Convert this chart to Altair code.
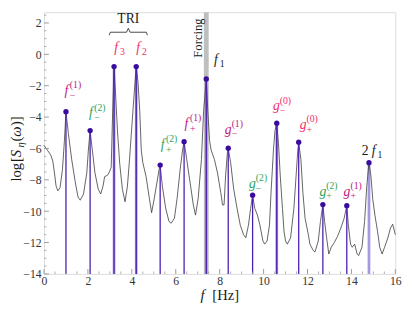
import altair as alt
import pandas as pd

SERIF = "Liberation Serif"

# ---------------- data ----------------
freq = [0.0, 0.05, 0.15, 0.3, 0.4, 0.47, 0.55, 0.63, 0.73, 0.84, 0.93, 1.0,
        1.11, 1.26, 1.43, 1.55, 1.65, 1.8, 1.95, 2.02, 2.1,
        2.2, 2.32, 2.47, 2.58, 2.69, 2.76, 2.9, 2.98, 3.06, 3.12, 3.19,
        3.27, 3.35, 3.45, 3.57, 3.69, 3.8, 3.9, 4.0, 4.1, 4.2,
        4.28, 4.36, 4.43, 4.5, 4.65, 4.8, 4.9, 5.02, 5.14, 5.24, 5.29,
        5.39, 5.54, 5.69, 5.79, 5.94, 6.06, 6.2, 6.31, 6.38,
        6.5, 6.65, 6.8, 6.9, 7.02, 7.17, 7.27, 7.39,
        7.46, 7.54, 7.61, 7.76, 7.9, 8.05, 8.13, 8.2, 8.27, 8.35, 8.39,
        8.5, 8.64, 8.79, 8.94, 9.09, 9.19, 9.31, 9.41, 9.5,
        9.6, 9.72, 9.83, 9.97, 10.05, 10.16, 10.27, 10.34, 10.45, 10.52, 10.6,
        10.68, 10.76, 10.86, 10.93, 11.0, 11.08, 11.23, 11.38, 11.48, 11.56, 11.6,
        11.7, 11.79, 11.89, 12.04, 12.11, 12.26, 12.34, 12.49, 12.59, 12.7,
        12.78, 12.89, 12.97, 13.08, 13.22, 13.37, 13.52, 13.67, 13.79,
        13.86, 13.96, 14.04, 14.15, 14.26, 14.33, 14.48, 14.6, 14.7, 14.8,
        14.89, 14.97, 15.07, 15.19, 15.29, 15.4, 15.51, 15.66, 15.78, 15.88, 16.0]
logS = [-5.8, -5.9, -6.1, -6.4, -6.8, -7.5, -8.4, -8.7, -8.5, -7.35, -5.5, -3.66,
        -5.05, -6.7, -8.2, -9.1, -9.3, -8.9, -7.55, -6.1, -4.86,
        -6.1, -7.55, -8.6, -8.9, -8.4, -7.8, -7.7, -7.5, -7.2, -4.0, -0.78,
        -2.8, -5.0, -7.0, -8.6, -9.4, -8.4, -6.6, -4.6, -2.6, -0.78,
        -1.76, -3.6, -6.1, -6.9, -7.8, -9.2, -10.1, -9.2, -8.2, -7.35, -7.06,
        -8.4, -9.8, -10.65, -10.77, -10.45, -9.2, -7.35, -6.1, -5.57,
        -6.7, -8.15, -9.6, -10.25, -9.2, -6.7, -3.6, -1.57,
        -3.6, -5.5, -6.1, -6.7, -7.55, -8.8, -9.6, -9.6, -7.76, -6.3, -5.98,
        -6.9, -8.6, -9.8, -10.9, -11.5, -11.7, -10.9, -9.83, -8.98,
        -9.83, -10.25, -10.87, -11.9, -12.1, -11.9, -10.87, -8.8, -6.1, -4.86, -4.39,
        -5.7, -7.76, -9.83, -11.27, -11.9, -12.1, -11.7, -9.83, -7.76, -6.1, -5.6,
        -6.7, -8.8, -10.45, -11.5, -12.1, -12.5, -12.6, -11.9, -10.66, -9.58,
        -10.66, -11.9, -12.73, -12.3, -12.0, -11.6, -11.07, -10.45, -9.65,
        -10.87, -12.1, -12.3, -12.1, -12.73, -12.83, -12.3, -10.66, -8.4, -6.91,
        -7.76, -9.2, -10.25, -11.28, -12.3, -12.73, -12.3, -11.7, -11.07, -10.83, -11.5]

peak_f = [1.0, 2.1, 3.19, 4.2, 5.29, 6.38, 7.39, 8.39, 9.5, 10.6, 11.6, 12.7, 13.79, 14.8]
peak_v = [-3.66, -4.86, -0.78, -0.78, -7.06, -5.57, -1.57, -5.98, -8.98, -4.39, -5.6, -9.58, -9.65, -6.91]
stem_kind = ["dark", "dark", "halo", "halo", "dark", "dark", "halo", "dark", "dark", "halo",
             "dark", "dark", "dark", "light"]
stem_base = -14

# sideband labels
lab_base = ["f", "f", "f", "f", "g", "g", "g", "g", "g", "g"]
lab_sup = ["(1)", "(2)", "(2)", "(1)", "(1)", "(2)", "(0)", "(0)", "(2)", "(1)"]
lab_sub = ["−", "−", "+", "+", "−", "−", "−", "+", "+", "+"]
lab_x = [1.02, 2.13, 5.40, 6.49, 8.39, 9.49, 10.58, 11.80, 12.70, 13.80]
lab_y = [-2.57, -4.02, -6.04, -4.68, -5.05, -8.5, -3.58, -4.77, -9.0, -9.0]
MAG, GRN, PNK = "#c2177f", "#2ea35c", "#f22d6c"
lab_col = [MAG, GRN, GRN, MAG, MAG, GRN, PNK, PNK, GRN, MAG]

# main-frequency labels f3, f2, f1, 2f1
main_sub = ["3", "2", "1", "1"]
main_x = [3.28, 4.29, 7.83, 15.01]
main_y = [0.17, 0.17, -0.64, -6.4]
main_col = [PNK, PNK, "#1a1a1a", "#1a1a1a"]

forcing_lo, forcing_hi = [7.28], [7.50]

brace_x = [2.97, 3.02, 3.76, 3.84, 3.92, 4.66, 4.71]
brace_y = [1.22, 1.41, 1.41, 1.66, 1.41, 1.41, 1.22]

y_major = list(range(-14, 3, 2))
y_minor = [v / 2 for v in range(-28, 6) if v % 4 != 0]
x_major = list(range(0, 17, 2))
x_minor = [v / 2 for v in range(0, 33) if v % 4 != 0]

# ---------------- layout ----------------
W, H = 361, 269
YTOP = 2.69
xs = alt.Scale(domain=[0, 16], nice=False, zero=False)
ys = alt.Scale(domain=[-14, YTOP], nice=False, zero=False)
xaxis = alt.Axis(values=x_major, ticks=False, tickSize=0, domain=False, grid=False,
                 labelFont=SERIF, labelFontSize=12, labelColor="#333", labelPadding=2,
                 labelFlush=False, labelOverlap=False)
yaxis = alt.Axis(values=y_major, ticks=False, tickSize=0, domain=False, grid=False,
                 labelFont=SERIF, labelFontSize=12, labelColor="#333", labelPadding=3,
                 labelFlush=False, labelOverlap=False)


def X(f):
    return alt.X(f, type="quantitative", scale=xs, axis=xaxis, title=None)


def Y(f):
    return alt.Y(f, type="quantitative", scale=ys, axis=yaxis, title=None)


spec_df = pd.DataFrame({"f": freq, "v": logS})
peaks = pd.DataFrame({"f": peak_f, "v": peak_v, "kind": stem_kind, "base": stem_base})
labels = pd.DataFrame({"x": lab_x, "y": lab_y, "b": lab_base, "sup": lab_sup,
                       "sub": lab_sub, "c": lab_col})
mains = pd.DataFrame({"x": main_x, "y": main_y, "sub": main_sub, "c": main_col})
band = pd.DataFrame({"lo": forcing_lo, "hi": forcing_hi})
brace = pd.DataFrame({"x": brace_x, "y": brace_y, "o": list(range(len(brace_x)))})

layers = []

layers.append(alt.Chart(band).mark_rect(color="#bfbfbf").encode(
    x=X("lo"), x2="hi", y=alt.value(0), y2=alt.value(H)))

layers.append(alt.Chart(peaks).transform_filter("datum.kind != 'dark'").mark_rule(
    color="#a797e2", strokeWidth=2.8).encode(x=X("f"), y=Y("base"), y2="v"))

layers.append(alt.Chart(spec_df).mark_line(color="#3a3a3a", strokeWidth=0.8).encode(
    x=X("f"), y=Y("v")))

layers.append(alt.Chart(peaks).transform_filter("datum.kind != 'light'").mark_rule(
    color="#4a1bb0", strokeWidth=1.3).encode(x=X("f"), y=Y("base"), y2="v"))

layers.append(alt.Chart(peaks).mark_circle(size=30, color="#3a0c9e", opacity=1).encode(
    x=X("f"), y=Y("v")))

# ticks (inward)
TC = "#9a9a9a"
layers.append(alt.Chart(pd.DataFrame({"t": y_major})).mark_rule(color=TC, strokeWidth=1).encode(
    y=Y("t"), x=alt.value(0), x2=alt.value(5)))
layers.append(alt.Chart(pd.DataFrame({"t": y_minor})).mark_rule(color=TC, strokeWidth=0.8).encode(
    y=Y("t"), x=alt.value(0), x2=alt.value(2.5)))
layers.append(alt.Chart(pd.DataFrame({"t": x_major})).mark_rule(color=TC, strokeWidth=1).encode(
    x=X("t"), y=alt.value(H), y2=alt.value(H - 5)))
layers.append(alt.Chart(pd.DataFrame({"t": x_minor})).mark_rule(color=TC, strokeWidth=0.8).encode(
    x=X("t"), y=alt.value(H), y2=alt.value(H - 2.5)))

# sideband labels
col = alt.Color("c:N", scale=None, legend=None)
lab = alt.Chart(labels)
layers.append(lab.mark_text(font=SERIF, fontStyle="italic", fontSize=14, align="center",
                            baseline="alphabetic").encode(x=X("x"), y=Y("y"), text="b:N", color=col))
layers.append(lab.mark_text(font=SERIF, fontSize=10, align="left", baseline="alphabetic",
                            dx=3.5, dy=-7).encode(x=X("x"), y=Y("y"), text="sup:N", color=col))
layers.append(lab.mark_text(font=SERIF, fontSize=10, align="left", baseline="middle",
                            dx=3.5, dy=1).encode(x=X("x"), y=Y("y"), text="sub:N", color=col))

# main labels
mn = alt.Chart(mains)
layers.append(mn.mark_text(font=SERIF, fontStyle="italic", fontSize=14, align="center",
                           baseline="alphabetic", text="f").encode(x=X("x"), y=Y("y"), color=col))
layers.append(mn.mark_text(font=SERIF, fontSize=10, align="left", baseline="alphabetic",
                           dx=4, dy=3).encode(x=X("x"), y=Y("y"), text="sub:N", color=col))
layers.append(alt.Chart(pd.DataFrame({"x": [14.63], "y": [-6.4]})).mark_text(
    font=SERIF, fontSize=14, align="center", baseline="alphabetic", text="2",
    color="#1a1a1a").encode(x=X("x"), y=Y("y")))

# TRI with brace
layers.append(alt.Chart(pd.DataFrame({"x": [3.84], "y": [1.97]})).mark_text(
    font=SERIF, fontSize=14, align="center", baseline="alphabetic", text="TRI",
    color="#1a1a1a").encode(x=X("x"), y=Y("y")))
layers.append(alt.Chart(brace).mark_line(color="#1a1a1a", strokeWidth=0.8).encode(
    x=X("x"), y=Y("y"), order="o:Q"))

# Forcing
layers.append(alt.Chart(pd.DataFrame({"x": [7.03], "y": [1.04]})).mark_text(
    font=SERIF, fontSize=13, align="center", baseline="middle", angle=270, text="Forcing",
    color="#1a1a1a").encode(x=X("x"), y=Y("y")))

# axis titles (composed pieces)
TXT = "#1a1a1a"
ytitle = [("log", 174, "normal", 15, 0), ("[", 154, "normal", 15, 0), ("S", 149, "italic", 15, 0),
          ("η", 139, "italic", 11, 3), ("(", 133, "normal", 15, 0), ("ω", 128, "italic", 15, 0),
          (")]", 117, "normal", 15, 0)]
for t, py, st, fs, dy in ytitle:
    layers.append(alt.Chart(pd.DataFrame({"a": [0]})).mark_text(
        font=SERIF, fontStyle=st, fontSize=fs, align="left", baseline="alphabetic",
        angle=270, dy=dy, text=t, color=TXT).encode(x=alt.value(-24), y=alt.value(py)))

layers.append(alt.Chart(pd.DataFrame({"a": [0]})).mark_text(
    font=SERIF, fontStyle="italic", fontSize=15, align="center", baseline="alphabetic",
    text="f", color=TXT).encode(x=alt.value(163), y=alt.value(296)))
layers.append(alt.Chart(pd.DataFrame({"a": [0]})).mark_text(
    font=SERIF, fontSize=15, align="left", baseline="alphabetic",
    text="[Hz]", color=TXT).encode(x=alt.value(173), y=alt.value(296)))

chart = alt.layer(*layers).properties(
    width=W, height=H,
    autosize=alt.AutoSizeParams(type="none"),
    padding={"left": 37, "top": 0, "right": 12, "bottom": 40},
).configure_view(stroke="#b0b0b0", strokeWidth=2).configure(font=SERIF)

chart.save("out.html", embed_options={"renderer": "svg", "actions": False})
